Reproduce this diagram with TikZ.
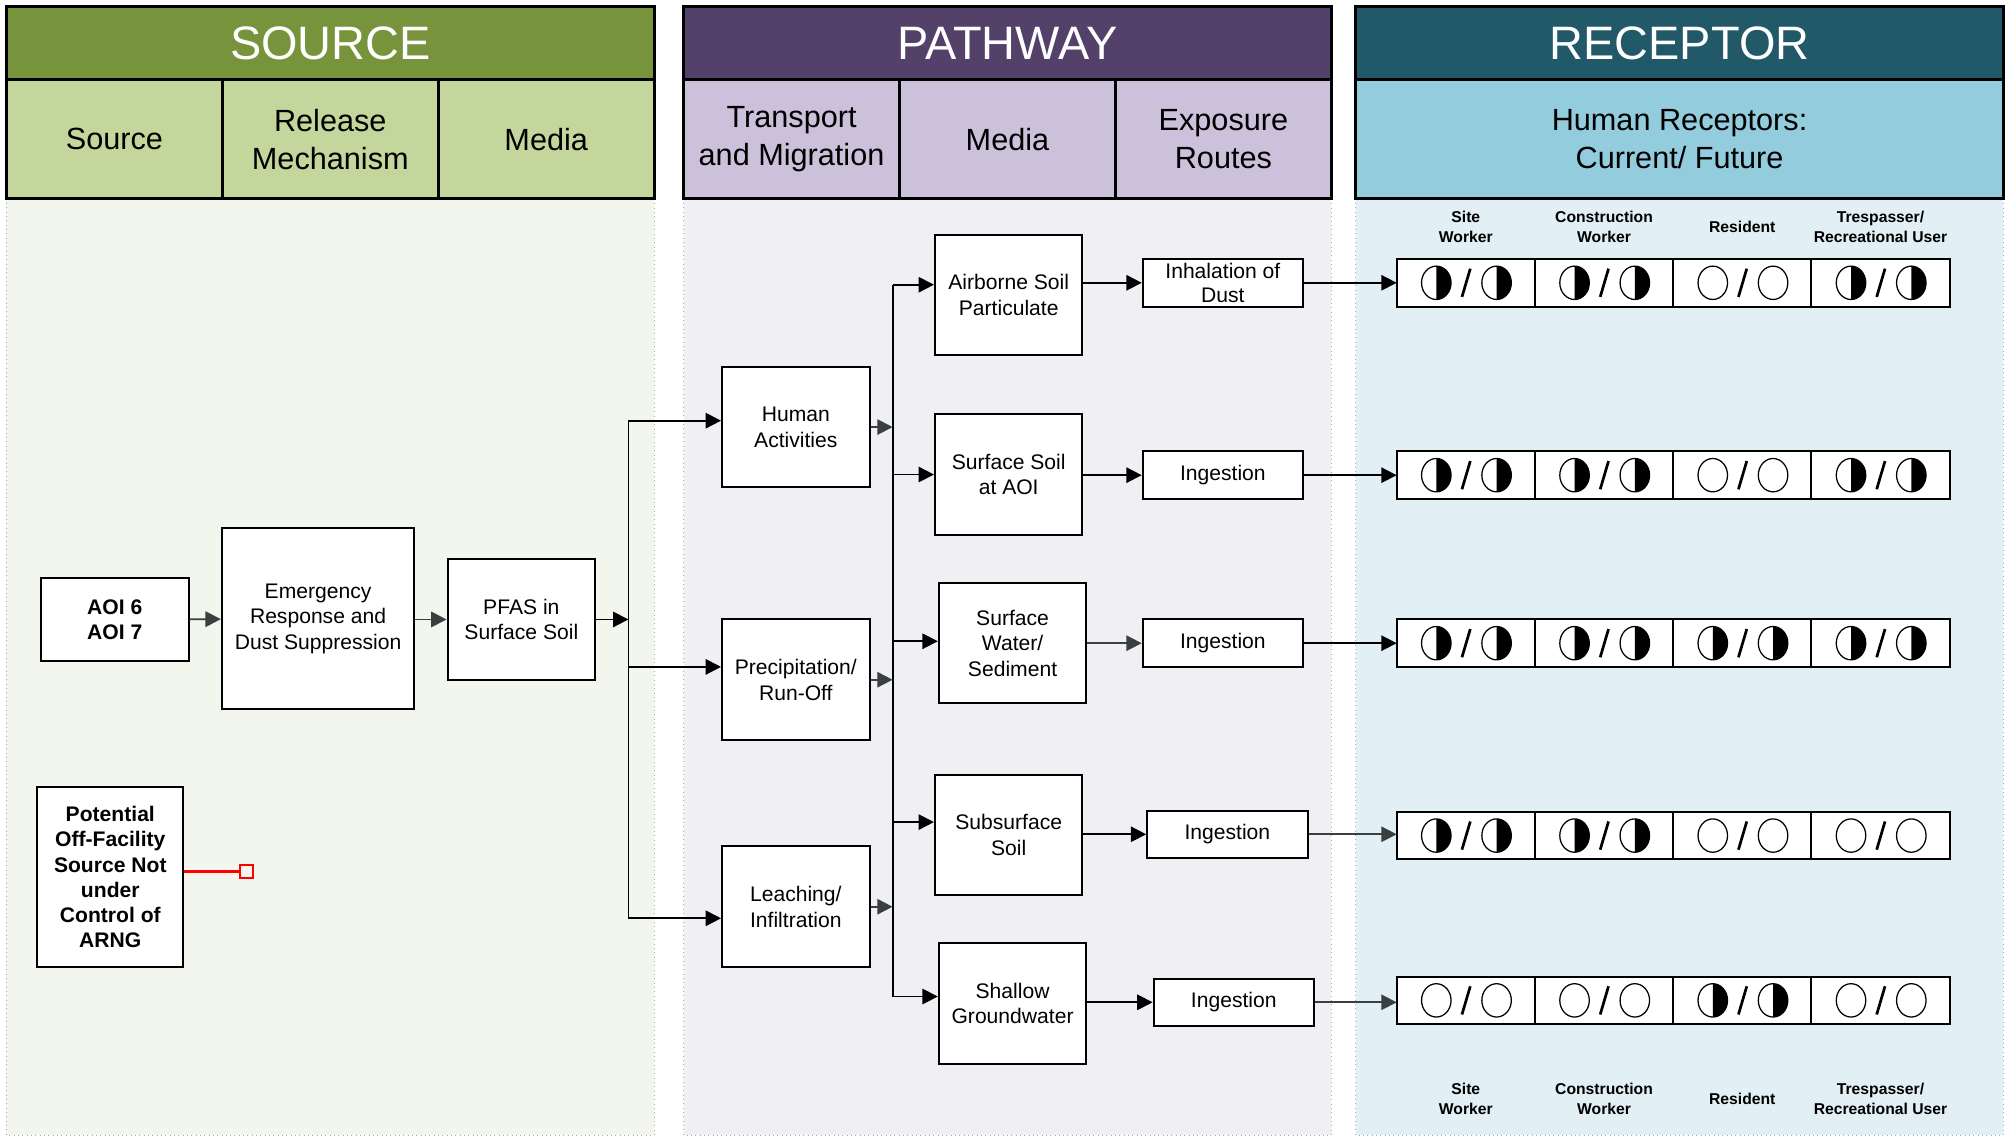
\documentclass[tikz,border=0pt]{standalone}
\usepackage{fontspec}
\setmainfont{Liberation Sans}
\usetikzlibrary{arrows.meta, positioning, calc}
\definecolor{srcdark}{HTML}{77933C}
\definecolor{srclight}{HTML}{C3D69B}
\definecolor{srcbody}{HTML}{F3F6EC}
\definecolor{pathdark}{HTML}{54416A}
\definecolor{pathlight}{HTML}{CCC1DA}
\definecolor{pathbody}{HTML}{F0EFF4}
\definecolor{recdark}{HTML}{215968}
\definecolor{reclight}{HTML}{93CDDD}
\definecolor{recbody}{HTML}{E2F0F5}
\definecolor{arrgray}{HTML}{3A3F3F}
\definecolor{offred}{HTML}{FF0000}

\begin{document}
\begin{tikzpicture}[x=0.025cm, y=-0.025cm,
  title/.style={draw=black, line width=1.5pt, outer sep=0pt,
        minimum width=12.625cm, minimum height=1.425cm,
        text=white, font=\fontsize{26}{30}\selectfont},
  subhd/.style={draw=black, line width=1.5pt, outer sep=0pt,
        minimum width=4.208cm, minimum height=2.325cm,
        align=center, font=\fontsize{17}{21}\selectfont},
  box/.style={draw=black, line width=1.1pt, fill=white, align=center,
        minimum width=2.875cm, minimum height=2.35cm, inner sep=1pt,
        font=\fontsize{11.7}{14.2}\selectfont},
  boldbox/.style={box, font=\bfseries\fontsize{11.7}{14}\selectfont},
  expbox/.style={box, minimum width=3.125cm, minimum height=0.925cm,
        font=\fontsize{11.7}{13.5}\selectfont},
  cell/.style={draw=black, line width=1.1pt, fill=white, outer sep=0pt,
        minimum width=2.694cm, minimum height=0.925cm},
  collab/.style={align=center, font=\bfseries\fontsize{8.7}{10.8}\selectfont},
  arr/.style={-{Triangle[length=0.3cm, width=0.3cm]}, line width=1pt},
  garr/.style={arr, arrgray},
  moons/.pic={
    \foreach \dx in {-23,24} {
      \ifnum#1=1 \fill (\dx,-13) arc[start angle=-90, end angle=90,
          x radius=11.5, y radius=13] -- cycle; \fi
      \draw[line width=0.7pt] (\dx,0) ellipse[x radius=11.5, y radius=13];
    }
    \draw[line width=1.5pt] (-3,11) -- (3.5,-11);
  }]
  \useasboundingbox (0,0) rectangle (1568,886);

  % Panels
  \fill[srcbody] (5,155) rectangle (510,885);
  \fill[pathbody] (533,155) rectangle (1038,885);
  \fill[recbody] (1057,155) rectangle (1562,885);
  \draw[gray!70, dotted] (5,155) -- (5,885) -- (510,885) -- (510,155);
  \draw[gray!70, dotted] (533,155) -- (533,885) -- (1038,885) -- (1038,155);
  \draw[gray!70, dotted] (1057,155) -- (1057,885) -- (1562,885) -- (1562,155);

  \node[title, fill=srcdark, anchor=north west] (srct) at (5,5) {SOURCE};
  \node[subhd, fill=srclight, anchor=north west] (srch1) at (srct.south west) {Source};
  \node[subhd, fill=srclight, right=0pt of srch1] (srch2) {Release\\Mechanism};
  \node[subhd, fill=srclight, right=0pt of srch2] (srch3) {Media};

  \node[title, fill=pathdark, anchor=north west] (patht) at (533,5) {PATHWAY};
  \node[subhd, fill=pathlight, anchor=north west] (pathh1) at (patht.south west) {Transport\\and Migration};
  \node[subhd, fill=pathlight, right=0pt of pathh1] (pathh2) {Media};
  \node[subhd, fill=pathlight, right=0pt of pathh2] (pathh3) {Exposure\\Routes};

  \node[title, fill=recdark, anchor=north west] (rect) at (1057,5) {RECEPTOR};
  \node[subhd, fill=reclight, anchor=north west, minimum width=12.625cm] (rech)
        at (rect.south west) {Human Receptors:\\Current/ Future};

  % Source column
  \node[boldbox, minimum height=1.6cm] (aoi) at (89.5,483) {AOI 6\\AOI 7};
  \node[box, minimum width=3.75cm, minimum height=3.525cm] (emerg) at (248,482.5)
        {Emergency\\Response and\\Dust Suppression};
  \node[box] (pfas) at (406.5,483) {PFAS in\\Surface Soil};
  \node[boldbox, minimum width=2.85cm, minimum height=3.5cm] (offsrc) at (86,684)
        {Potential\\Off-Facility\\Source Not\\under\\Control of\\ARNG};
  \node[draw=offred, line width=1.1pt, minimum size=0.25cm, inner sep=0pt] (offend) at (192,679.5) {};
  \draw[garr] (aoi) -- (emerg);
  \draw[garr] (emerg.east |- pfas.west) -- (pfas.west);
  \draw[offred, line width=1.2pt] (offsrc.east |- offend.west) -- (offend.west);

  % Transport and migration
  \node[box] (hum) at (620.5,333) {Human\\Activities};
  \node[box] (prec) at (620.5,530) {Precipitation/\\Run-Off};
  \node[box] (leach) at (620.5,707) {Leaching/\\Infiltration};
  \coordinate (b1) at (490,483);
  \coordinate (b1h) at (490,328);
  \coordinate (b1p) at (490,520);
  \coordinate (b1l) at (490,716);
  \draw[arr] (pfas.east) -- (b1);
  \draw[line width=1pt] (b1h) -- (b1l);
  \draw[arr] (b1h) -- (b1h -| hum.west);
  \draw[arr] (b1p) -- (b1p -| prec.west);
  \draw[arr] (b1l) -- (b1l -| leach.west);

  % Media
  \node[box] (air) at (786.5,230) {Airborne Soil\\Particulate};
  \node[box] (ssoil) at (786.5,370) {Surface Soil\\at AOI};
  \node[box] (swat) at (789.5,501.5) {Surface\\Water/\\Sediment};
  \node[box] (subs) at (786.5,651) {Subsurface\\Soil};
  \node[box] (gw) at (789.5,782.5) {Shallow\\Groundwater};
  \coordinate (b2a) at (696,222);
  \coordinate (b2b) at (696,370);
  \coordinate (b2c) at (696,500);
  \coordinate (b2d) at (696,641);
  \coordinate (b2e) at (696,777);
  \draw[line width=1pt] (b2a) -- (b2e);
  \draw[garr] (hum.east) -- (hum.east -| b2a);
  \draw[garr] (prec.east) -- (prec.east -| b2a);
  \draw[garr] (leach.east) -- (leach.east -| b2a);
  \draw[arr] (b2a) -- (b2a -| air.west);
  \draw[arr] (b2b) -- (b2b -| ssoil.west);
  \draw[arr] (b2c) -- (b2c -| swat.west);
  \draw[arr] (b2d) -- (b2d -| subs.west);
  \draw[arr] (b2e) -- (b2e -| gw.west);

  % Exposure routes
  \node[expbox] (inh) at (953.5,220.5) {Inhalation of\\Dust};
  \node[expbox] (ing1) at (953.5,370.5) {Ingestion};
  \node[expbox] (ing2) at (953.5,501.5) {Ingestion};
  \node[expbox] (ing3) at (957,650.5) {Ingestion};
  \node[expbox] (ing4) at (962,781.5) {Ingestion};
  \draw[arr] (air.east |- inh.west) -- (inh.west);
  \draw[arr] (ssoil.east |- ing1.west) -- (ing1.west);
  \draw[garr] (swat.east |- ing2.west) -- (ing2.west);
  \draw[arr] (subs.east |- ing3.west) -- (ing3.west);
  \draw[arr] (gw.east |- ing4.west) -- (ing4.west);

  % Receptors (1 = half, 0 = open)
  \foreach \r/\y/\va/\vb/\vc/\vd in {1/220.5/1/1/0/1, 2/370.5/1/1/0/1,
      3/501.5/1/1/1/1, 4/651.5/1/1/0/0, 5/780/0/0/1/0} {
    \node[cell] (c\r1) at (1142.9,\y) {};
    \node[cell, right=0pt of c\r1] (c\r2) {};
    \node[cell, right=0pt of c\r2] (c\r3) {};
    \node[cell, right=0pt of c\r3] (c\r4) {};
    \pic at (c\r1) {moons=\va};
    \pic at (c\r2) {moons=\vb};
    \pic at (c\r3) {moons=\vc};
    \pic at (c\r4) {moons=\vd};
  }
  \draw[arr] (inh.east) -- (inh.east -| c11.west);
  \draw[arr] (ing1.east) -- (ing1.east -| c21.west);
  \draw[arr] (ing2.east) -- (ing2.east -| c31.west);
  \draw[garr] (ing3.east) -- (ing3.east -| c41.west);
  \draw[garr] (ing4.east) -- (ing4.east -| c51.west);

  \coordinate (toplab) at (0,177);
  \coordinate (botlab) at (0,857);
  \node[collab] (lt1) at (c11 |- toplab) {Site\\Worker};
  \node[collab] (lt2) at (c12 |- toplab) {Construction\\Worker};
  \node[collab] (lt3) at (c13 |- toplab) {Resident};
  \node[collab] (lt4) at (c14 |- toplab) {Trespasser/\\Recreational User};
  \node[collab] (lb1) at (c51 |- botlab) {Site\\Worker};
  \node[collab] (lb2) at (c52 |- botlab) {Construction\\Worker};
  \node[collab] (lb3) at (c53 |- botlab) {Resident};
  \node[collab] (lb4) at (c54 |- botlab) {Trespasser/\\Recreational User};
\end{tikzpicture}
\end{document}
